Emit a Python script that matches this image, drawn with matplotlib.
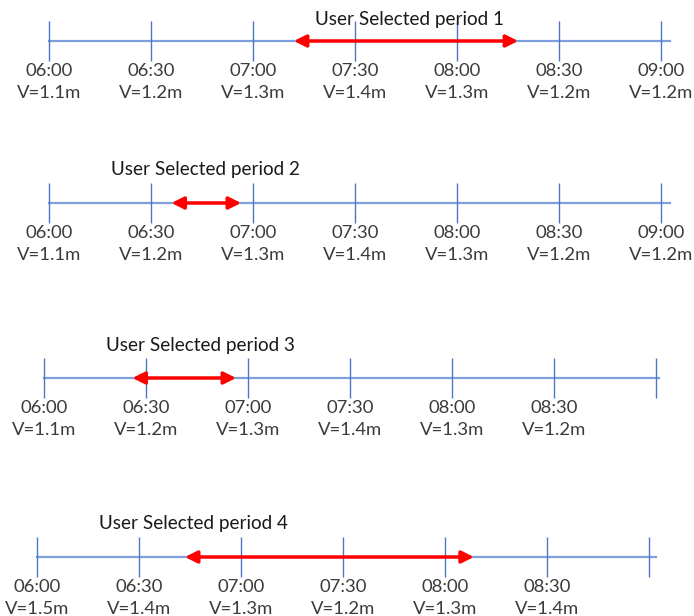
import matplotlib
matplotlib.use("Agg")
import matplotlib.pyplot as plt

plt.rcParams["font.family"] = ["Lato", "DejaVu Sans"]

# 時刻ラベル（6:00からの分）
tick_minutes = [0, 30, 60, 90, 120, 150, 180]
time_labels = ["06:00", "06:30", "07:00", "07:30", "08:00", "08:30", "09:00"]

# 各パネルのV値
v_period1 = [1.1, 1.2, 1.3, 1.4, 1.3, 1.2, 1.2]
v_period2 = [1.1, 1.2, 1.3, 1.4, 1.3, 1.2, 1.2]
v_period3 = [1.1, 1.2, 1.3, 1.4, 1.3, 1.2]
v_period4 = [1.5, 1.4, 1.3, 1.2, 1.3, 1.4]

# ユーザー選択期間（開始分, 終了分）
sel_start = [72, 36, 26, 43.5]
sel_end = [138, 56.5, 56.5, 128.5]

titles = ["User Selected period 1", "User Selected period 2",
          "User Selected period 3", "User Selected period 4"]
values = [v_period1, v_period2, v_period3, v_period4]

# レイアウト（ピクセル）: 左端のx, 線のy, タイトルの中心(分), タイトル高さ
left_px = [49, 49, 44, 37]
line_px = [41, 203, 378, 557]
title_x = [106, 46, 46, 46]
title_dy = [1.05, 1.7, 1.65, 1.7]
line_end = [182.5, 182.5, 181, 182]

W, H = 694, 616
fig = plt.figure(figsize=(W / 100, H / 100), dpi=100)

txt_color = "#3b3b3b"
for i in range(4):
    ax = fig.add_axes([left_px[i] / W, (H - line_px[i] - 20) / H, 612 / W, 40 / H])
    ax.set_xlim(0, 180)
    ax.set_ylim(-1, 1)
    ax.axis("off")

    ax.plot([0, line_end[i]], [0, 0], color="#7f9fdc", lw=1.6, clip_on=False)
    ax.vlines(tick_minutes, -1, 1, color="#4a76c6", lw=1.0, clip_on=False)

    for t, lab, v in zip(tick_minutes, time_labels, values[i]):
        ax.text(t, -1.5, lab, ha="center", va="center", fontsize=13.3,
                color=txt_color, clip_on=False)
        ax.text(t, -2.6, f"V={v}m", ha="center", va="center", fontsize=13.3,
                color=txt_color, clip_on=False)

    ax.annotate("", xy=(sel_end[i], 0), xytext=(sel_start[i], 0),
                arrowprops=dict(arrowstyle="<|-|>", color="#ff0000", lw=2.5,
                                mutation_scale=18, shrinkA=0, shrinkB=0))

    ax.text(title_x[i], title_dy[i], titles[i], ha="center", va="center",
            fontsize=13.6, color="#1a1a1a", clip_on=False)

fig.savefig("out.png", dpi=100)
plt.close()
